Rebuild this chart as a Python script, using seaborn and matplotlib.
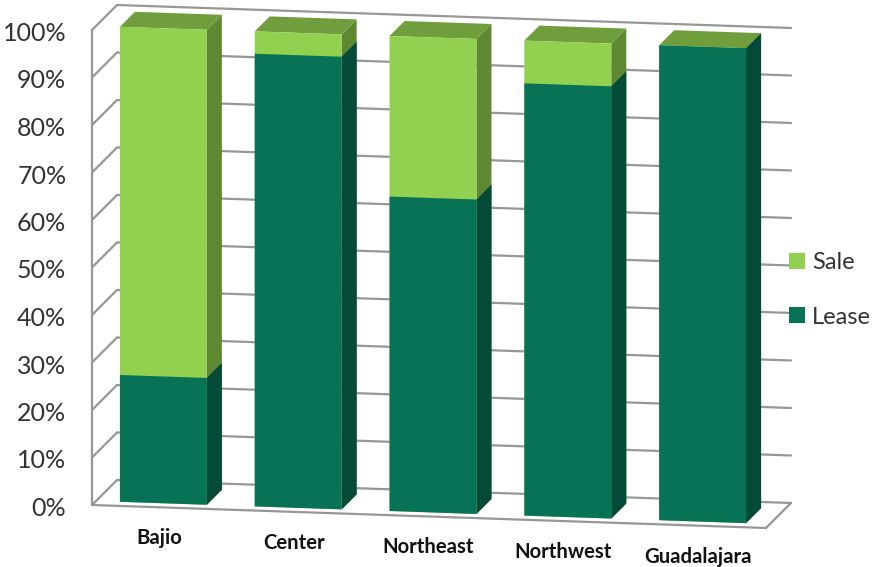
import matplotlib
matplotlib.use("Agg")
import matplotlib.pyplot as plt
from matplotlib.patches import Patch, Polygon
from matplotlib.transforms import Affine2D, IdentityTransform
import numpy as np
import seaborn as sns

categories = ["Bajio", "Center", "Northeast", "Northwest", "Guadalajara"]
lease = [26.7, 95.3, 66.2, 91.0, 100.0]
sale = [73.3, 4.7, 33.8, 9.0, 0.0]
y_ticks = [0, 10, 20, 30, 40, 50, 60, 70, 80, 90, 100]

GRID = "#979797"
SALE, SALE_SIDE = "#92D050", "#5F8833"
LEASE, LEASE_SIDE = "#077256", "#034A38"
TOP = "#709E3C"

sns.set_style("white")
plt.rcParams["font.family"] = ["Lato", "DejaVu Sans"]

W, H = 875, 567
fig = plt.figure(figsize=(W / 100, H / 100), dpi=100)
left, right, base, top = 92, 766, 505, 30
ax = fig.add_axes([left / W, (H - base) / H, (right - left) / W, (base - top) / H])

total = [a + b for a, b in zip(lease, sale)]
sns.barplot(x=categories, y=total, color=SALE, saturation=1, width=0.645, ax=ax, zorder=3)
sns.barplot(x=categories, y=lease, color=LEASE, saturation=1, width=0.645, ax=ax, zorder=3)
ax.set_xlim(-0.5, 4.5)
ax.set_ylim(0, 100)

slope = 0.0341
shear = Affine2D(np.array([[1, 0, 0], [-slope, 1, slope * left], [0, 0, 1]]))
plane = ax.transData + shear


def depth(d):
    return plane + Affine2D().translate(d, d)


def project(x, y, d):
    px, py = plane.transform((x, y))
    return px + d, py + d


BACK, NEAR, FAR = 25, 4, 19

# back wall, left wall and floor
for p in y_ticks:
    ax.plot([-0.5, 4.5], [p, p], color=GRID, lw=1.6, transform=depth(BACK), clip_on=False, zorder=1)
    a, b = project(-0.5, p, 0), project(-0.5, p, BACK)
    ax.plot([a[0], b[0]], [a[1], b[1]], color=GRID, lw=1.6, transform=IdentityTransform(),
            clip_on=False, zorder=1, scalex=False, scaley=False)
ax.plot([-0.5, -0.5], [0, 100], color=GRID, lw=1.6, transform=plane, clip_on=False, zorder=1)
ax.plot([-0.5, 4.5], [0, 0], color=GRID, lw=1.6, transform=plane, clip_on=False, zorder=1)
a, b = project(4.5, 0, 0), project(4.5, 0, BACK)
ax.plot([a[0], b[0]], [a[1], b[1]], color=GRID, lw=1.6, transform=IdentityTransform(),
        clip_on=False, zorder=1, scalex=False, scaley=False)

# bars: front faces from seaborn, side and top faces derived from them
bars = list(ax.patches)
n = len(categories)
for i, patch in enumerate(bars):
    x0, x1 = patch.get_x(), patch.get_x() + patch.get_width()
    h = patch.get_height()
    is_total = i < n
    side = SALE_SIDE if is_total else LEASE_SIDE
    order = 3 + (0 if is_total else 0.2)
    patch.set_transform(depth(NEAR))
    patch.set_clip_on(False)
    patch.set_zorder(order + 0.1)
    patch.set_linewidth(0)
    ax.add_patch(Polygon([project(x1, 0, NEAR), project(x1, 0, FAR), project(x1, h, FAR), project(x1, h, NEAR)],
                         closed=True, fc=side, ec="none", transform=IdentityTransform(),
                         clip_on=False, zorder=order))
    if is_total:
        ax.add_patch(Polygon([project(x0, h, NEAR), project(x1, h, NEAR), project(x1, h, FAR), project(x0, h, FAR)],
                             closed=True, fc=TOP, ec="none", transform=IdentityTransform(),
                             clip_on=False, zorder=order))

for s in ax.spines.values():
    s.set_visible(False)
ax.patch.set_visible(False)
ax.grid(False)

ax.set_yticks(y_ticks)
ax.set_yticklabels([f"{t}%" for t in y_ticks], fontsize=18, color="#333333")
ax.tick_params(axis="y", length=0, pad=18.5)
for tick in ax.yaxis.get_major_ticks():
    tick.label1.set_transform(tick.label1.get_transform() + Affine2D().translate(0, -1.5))

ax.set_xticks(range(n))
ax.set_xticklabels(categories, fontsize=14.6, fontweight="bold", color="#111111")
ax.tick_params(axis="x", length=0)
for tick in ax.xaxis.get_major_ticks():
    tick.label1.set_transform(plane + Affine2D().translate(-0.5, -31))
    tick.label1.set_verticalalignment("center")

handles = [Patch(fc=SALE, ec="none", label="Sale"), Patch(fc=LEASE, ec="none", label="Lease")]
fig.legend(handles=handles, loc="upper left", bbox_to_anchor=(782 / W, 1 - 245 / H), frameon=False,
           fontsize=17, labelcolor="#333333", handlelength=0.68, handleheight=0.68,
           handletextpad=0.28, labelspacing=1.42, borderpad=0.3, borderaxespad=0)

fig.savefig("out.png", dpi=100, facecolor="white")
